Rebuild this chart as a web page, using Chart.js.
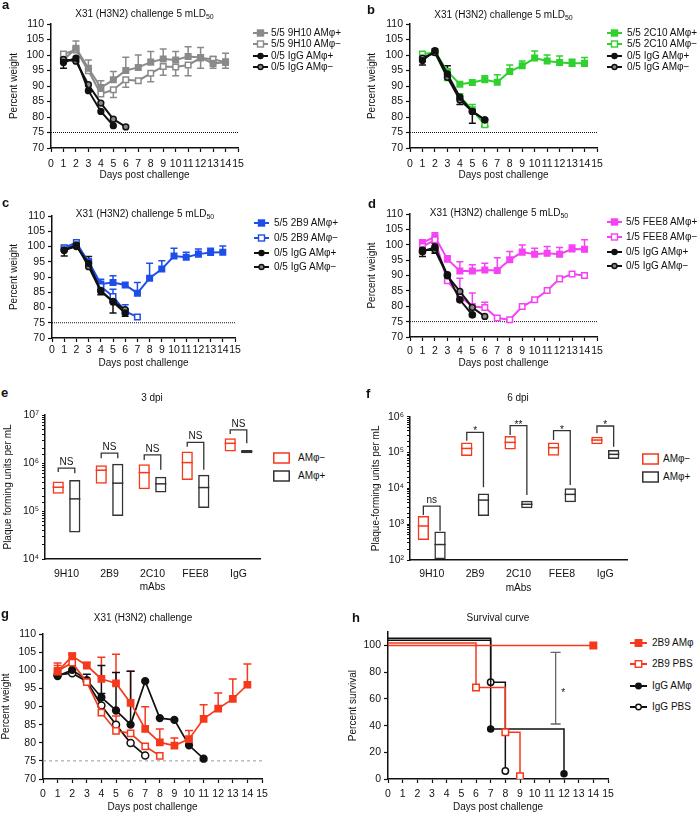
<!DOCTYPE html>
<html><head><meta charset="utf-8">
<script src="https://cdn.jsdelivr.net/npm/chart.js@4.4.1/dist/chart.umd.min.js"></script>
<style>
body{margin:0;width:700px;height:813px;position:relative;background:#fff;font-family:"Liberation Sans",Arial,sans-serif;color:#111;overflow:hidden}
canvas{position:absolute}
.lbl{position:absolute;font-weight:bold;font-size:13px;line-height:13px}
.ttl{position:absolute;font-size:10px;white-space:nowrap;transform:translate(-50%,-50%);line-height:12px}
.ttl sub{font-size:7px;vertical-align:-2px;line-height:0}
.row{position:absolute;height:12px;line-height:12px;font-size:10px;white-space:nowrap;display:flex;align-items:center}
.row svg{flex:none}
</style></head><body>
<canvas id="ca" width="250" height="190" style="left:0;top:0"></canvas>
<canvas id="cb" width="260" height="190" style="left:350px;top:0"></canvas>
<canvas id="cc" width="248" height="178" style="left:0;top:200px"></canvas>
<canvas id="cd" width="260" height="177" style="left:350px;top:200px"></canvas>
<canvas id="ce" width="272" height="199" style="left:0;top:400px"></canvas>
<canvas id="cf" width="290" height="200" style="left:350px;top:400px"></canvas>
<canvas id="cg" width="275" height="203" style="left:0;top:610px"></canvas>
<canvas id="ch" width="275" height="203" style="left:347px;top:610px"></canvas>
<div class="lbl" style="left:2px;top:-2px">a</div>
<div class="lbl" style="left:367px;top:3px">b</div>
<div class="lbl" style="left:2px;top:196px">c</div>
<div class="lbl" style="left:368px;top:197px">d</div>
<div class="lbl" style="left:1px;top:386px">e</div>
<div class="lbl" style="left:366px;top:387px">f</div>
<div class="lbl" style="left:1px;top:607px">g</div>
<div class="lbl" style="left:352px;top:611px">h</div>
<div class="ttl" style="left:144.5px;top:14px">X31 (H3N2) challenge 5 mLD<sub>50</sub></div>
<div class="ttl" style="left:503.5px;top:15px">X31 (H3N2) challenge 5 mLD<sub>50</sub></div>
<div class="ttl" style="left:145px;top:214px">X31 (H3N2) challenge 5 mLD<sub>50</sub></div>
<div class="ttl" style="left:499px;top:213px">X31 (H3N2) challenge 5 mLD<sub>50</sub></div>
<div class="ttl" style="left:152px;top:398px">3 dpi</div>
<div class="ttl" style="left:518px;top:398px">6 dpi</div>
<div class="ttl" style="left:143px;top:618px">X31 (H3N2) challenge</div>
<div class="ttl" style="left:498px;top:618px">Survival curve</div>
<div id="legends"></div>
<script>
// ---------------- DATA ----------------
const days = [1,2,3,4,5,6,7,8,9,10,11,12,13,14];
const dayTicksMax = 15;
const threshold = 75;

// panel a
const a_9H10_pos = [98.4,102.2,95.7,89.5,92.0,95.0,96.0,97.7,98.7,98.4,99.5,99.2,97.3,97.7];
const a_9H10_pos_up = [null,104.5,98.4,91.7,94.7,99.3,100.0,101.1,101.9,101.1,102.7,102.4,99.5,100.6];
const a_9H10_neg = [100.3,101.6,94.9,87.4,88.8,92.0,91.7,94.1,96.3,96.1,96.8,99.0,98.6,97.7];
const a_9H10_neg_dn = [null,null,null,null,86.3,89.6,null,91.4,93.5,93.3,93.3,95.7,95.7,95.7];
const a_IgG_pos = [97.6,99.0,88.5,81.8,77.2];
const a_IgG_pos_dn = [95.7,null,null,null,null];
const a_IgG_neg = [98.6,98.0,90.4,84.5,79.3,76.8];

// panel b
const b_2C10_pos = [99.0,101.1,94.7,90.6,91.1,92.0,91.2,94.7,96.5,99.0,98.1,97.6,97.3,97.3];
const b_2C10_pos_up = [null,101.9,null,null,null,93.3,93.6,96.8,98.1,101.3,100.0,99.7,98.6,99.2];
const b_2C10_neg = [100.3,100.8,92.7,86.6,82.3,77.5];
const b_2C10_neg_up = [null,null,null,null,84.0,null];
const b_2C10_neg_dn = [null,null,null,null,null,76.8];
const b_IgG_pos = [98.2,101.4,93.9,86.4,81.8,79.1];
const b_IgG_pos_up = [null,null,96.5,null,null,null];
const b_IgG_pos_dn = [96.8,null,null,84.0,78.0,77.0];
const b_IgG_neg = [99.0,100.8,92.8,85.5,81.8,79.1];

// panel c
const c_2B9_pos = [99.4,100.5,95.1,87.7,88.2,87.4,84.7,89.6,92.6,96.9,96.5,97.5,98.0,98.1];
const c_2B9_pos_up = [null,null,null,89.3,90.4,null,88.2,94.5,95.3,99.4,98.1,99.2,99.4,100.2];
const c_2B9_neg = [99.6,101.3,94.7,86.9,83.6,78.7,76.9];
const c_2B9_neg_up = [null,null,null,null,86.0,80.9,null];
const c_IgG_pos = [98.9,100.0,94.5,85.6,81.8,78.2];
const c_IgG_pos_up = [null,null,96.7,null,null,null];
const c_IgG_pos_dn = [96.9,null,null,84.2,78.2,77.1];
const c_IgG_neg = [98.7,100.5,93.4,85.3,82.0,79.3];

// panel d
const d_FEE8_pos = [100.7,102.6,95.3,91.5,91.5,91.8,91.6,95.1,97.6,96.9,97.2,96.9,98.6,98.5];
const d_FEE8_pos_up = [null,103.9,96.4,94.5,93.5,94.0,95.8,97.8,99.9,98.9,99.4,99.1,99.9,101.6];
const d_FEE8_neg = [99.4,101.6,88.3,83.2,79.9,79.6,76.2,75.6,79.9,82.1,85.1,88.9,90.5,90.0];
const d_FEE8_neg_up = [null,null,null,89.1,84.3,81.3,null,null,null,null,null,null,null,null];
const d_IgG_pos = [97.8,99.2,90.2,82.1,77.2];
const d_IgG_pos_up = [null,100.5,null,null,null];
const d_IgG_pos_dn = [96.2,97.2,88.0,83.2,null];
const d_IgG_neg = [98.3,98.3,89.9,84.8,79.6,76.7];

// panels e, f (plaque forming units per mL)
const mAbs = ['9H10','2B9','2C10','FEE8','IgG'];
const e_neg_min = [2.28e5,3.68e5,2.85e5,4.45e5,1.73e6];
const e_neg_max = [4.1e5,9.0e5,9.4e5,1.73e6,3.27e6];
const e_neg_med = [3.13e5,7.07e5,6.3e5,1.02e6,2.57e6];
const e_pos_min = [3.58e4,7.9e4,2.43e5,1.15e5,1.6e6];
const e_pos_max = [4.45e5,9.6e5,5.2e5,5.66e5,1.87e6];
const e_pos_med = [1.79e5,3.8e5,3.68e5,3.08e5,1.73e6];
const e_sig_label = ['NS','NS','NS','NS','NS'];
const e_sig_top = [7.8e5,1.6e6,1.47e6,2.7e6,4.88e6];
const e_sig_left = [6.5e5,1.26e6,1.16e6,2.19e6,4.03e6];
const e_sig_right = [6.1e5,1.26e6,7.2e5,7.2e5,2.57e6];

const f_neg_min = [3.6e2,8.0e4,1.22e5,8.1e4,1.69e5];
const f_neg_max = [1.69e3,1.92e5,2.9e5,1.92e5,2.77e5];
const f_neg_med = [8.9e2,1.3e5,1.92e5,1.36e5,2.23e5];
const f_pos_min = [1.05e2,1.69e3,2.77e3,4.1e3,6.6e4];
const f_pos_max = [6.2e2,7.2e3,4.5e3,1.0e4,1.17e5];
const f_pos_med = [2.7e2,4.7e3,3.6e3,6.8e3,8.9e4];
const f_sig_label = ['ns','*','**','*','*'];
const f_sig_top = [3.2e3,3.66e5,5.6e5,4.06e5,5.5e5];
const f_sig_left = [1.8e3,2.14e5,3.08e5,2.23e5,3.43e5];
const f_sig_right = [6.6e2,1.07e4,6.5e3,1.24e4,1.46e5];

// panel g
const g_2B9_AM = [99.6,103.9,101.3,97.6,96.4,91.0,83.8,80.1,79.2,81.0,86.6,89.4,92.1,96.0];
const g_2B9_AM_up = [102.0,104.7,102.2,103.6,104.4,99.7,89.9,83.8,81.3,83.4,90.5,93.7,97.6,101.7];
const g_2B9_PBS = [99.8,102.1,96.7,88.3,83.3,82.6,79.0,76.4];
const g_2B9_PBS_up = [101.3,104.3,null,null,87.4,null,null,null];
const g_IgG_AM = [98.4,100.1,97.3,92.5,88.9,85.0,97.0,86.8,86.3,79.3,75.6];
const g_IgG_AM_up = [null,null,98.9,101.3,99.4,99.7,null,null,null,null,null];
const g_IgG_PBS = [98.7,99.2,96.9,90.3,85.0,79.9,76.5];
const g_IgG_PBS_up = [null,null,null,93.6,null,null,null];

// panel h (survival, %)
const h_2B9_AM_days = [0,14];
const h_2B9_AM = [100,100];
const h_2B9_PBS_days = [0,6,8,9];
const h_2B9_PBS = [102,68.5,35,2];
const h_IgG_AM_days = [0,7,12];
const h_IgG_AM = [104,37.5,4];
const h_IgG_PBS_days = [0,7,8];
const h_IgG_PBS = [105.5,72.5,6];
const h_sig_bar = [11.43,41.2,94.9];   // day, low, high
const h_sig_star = [11.95,65.4];

// ---------------- STYLE ----------------
const GRAY='#8a8a8a', GREEN='#2fd12f', BLUE='#1e4ee8', MAG='#f442f4', RED='#f5391c', BLK='#111';
Chart.defaults.font.family = '"Liberation Sans", Arial, sans-serif';
Chart.defaults.font.size = 10;
Chart.defaults.color = '#111';
Chart.defaults.animation = false;
const TICKFONT = {size:10.5};

const errPlugin = {
  id:'errbars',
  beforeDatasetsDraw(chart){
    const ctx=chart.ctx, xs=chart.scales.x, ys=chart.scales.y;
    chart.data.datasets.forEach(ds=>{
      if(!ds.errUp && !ds.errDown) return;
      ctx.save(); ctx.strokeStyle=ds.borderColor; ctx.lineWidth=1.5;
      const cap = ds.capHalf||3.5;
      ds.data.forEach((p,i)=>{
        const x=xs.getPixelForValue(p.x), y=ys.getPixelForValue(p.y);
        [ds.errUp,ds.errDown].forEach(arr=>{
          if(!arr||arr[i]==null) return;
          const ye=ys.getPixelForValue(arr[i]);
          ctx.beginPath(); ctx.moveTo(x,y); ctx.lineTo(x,ye);
          ctx.moveTo(x-cap,ye); ctx.lineTo(x+cap,ye); ctx.stroke();
        });
      });
      ctx.restore();
    });
  }
};

function ser(vals,color,style,fill,r,up,dn,xs,cap,lw){
  const xv = xs||days;
  return {data: vals.map((v,i)=>({x:xv[i],y:v})), borderColor:color, backgroundColor:fill,
    pointStyle:style, pointRadius:r, pointHoverRadius:r, pointBorderWidth:1.5,
    pointBackgroundColor:fill, pointBorderColor:color, borderWidth:lw||2, tension:0,
    errUp:up, errDown:dn, capHalf:cap||3.5};
}
function thr(color,dash){
  return {data:[{x:0,y:threshold},{x:dayTicksMax,y:threshold}], borderColor:color, borderWidth:1,
    borderDash:dash, pointRadius:0};
}
function axisCommon(){
  return {grid:{display:true,drawOnChartArea:false,drawTicks:true,tickLength:4,color:BLK,tickColor:BLK,tickWidth:1.2},
          border:{color:BLK,width:1.5}};
}
function weightChart(id,datasets,c){
  const xa=axisCommon(), ya=axisCommon();
  return new Chart(document.getElementById(id),{
    type:'line',
    data:{datasets},
    plugins:[errPlugin].concat(c.plugins||[]),
    options:{responsive:false,
      layout:{padding:{left:0,top:c.padT,right:c.padR,bottom:0}},
      plugins:{legend:{display:false},tooltip:{enabled:false}},
      scales:{
        x:Object.assign(xa,{type:'linear',min:0,max:dayTicksMax,afterFit:s=>{s.height=c.xH;},
          ticks:{stepSize:1,padding:c.xTP,autoSkip:false,maxRotation:0,color:BLK,font:TICKFONT},
          title:{display:true,text:'Days post challenge',color:BLK,padding:{top:0,bottom:c.xPB}}}),
        y:Object.assign(ya,{type:'linear',min:c.yMin,max:c.yMax,afterFit:s=>{s.width=c.yW;},
          ticks:{stepSize:c.yStep,padding:3,autoSkip:false,color:BLK,includeBounds:false,font:TICKFONT},
          title:{display:true,text:c.yTitle,color:BLK,padding:{top:c.yTP,bottom:0}}})
      }}
  });
}

// panel a
weightChart('ca',[
  ser(a_IgG_pos,BLK,'circle',BLK,2.9,null,a_IgG_pos_dn),
  ser(a_IgG_neg,BLK,'circle','#888',2.9),
  ser(a_9H10_pos,GRAY,'rect',GRAY,3.9,a_9H10_pos_up,null),
  ser(a_9H10_neg,GRAY,'rect','#fff',3.9,null,a_9H10_neg_dn),
  thr(BLK,[1,1])
],{padT:24,padR:12,yW:51,xH:42,xTP:6,xPB:9,yTP:8,yMin:70,yMax:110,yStep:5,yTitle:'Percent weight'});
// panel b
weightChart('cb',[
  ser(b_IgG_pos,BLK,'circle',BLK,2.9,b_IgG_pos_up,b_IgG_pos_dn),
  ser(b_IgG_neg,BLK,'circle','#888',2.9),
  ser(b_2C10_neg,GREEN,'rect','#fff',3.9,b_2C10_neg_up,b_2C10_neg_dn),
  ser(b_2C10_pos,GREEN,'rect',GREEN,3.9,b_2C10_pos_up,null),
  thr(BLK,[1,1])
],{padT:24,padR:13,yW:60,xH:42,xTP:6,xPB:9,yTP:16,yMin:70,yMax:110,yStep:5,yTitle:'Percent weight'});
// panel c
weightChart('cc',[
  ser(c_IgG_pos,BLK,'circle',BLK,2.9,c_IgG_pos_up,c_IgG_pos_dn),
  ser(c_IgG_neg,BLK,'circle','#888',2.9),
  ser(c_2B9_neg,BLUE,'rect','#fff',3.9,c_2B9_neg_up,null),
  ser(c_2B9_pos,BLUE,'rect',BLUE,3.9,c_2B9_pos_up,null),
  thr(BLK,[1,1])
],{padT:16,padR:13,yW:52,xH:40,xTP:1.5,xPB:9,yTP:8,yMin:70,yMax:110,yStep:5,yTitle:'Percent weight'});
// panel d
weightChart('cd',[
  ser(d_IgG_pos,BLK,'circle',BLK,3.1,d_IgG_pos_up,d_IgG_pos_dn),
  ser(d_IgG_neg,BLK,'circle','#888',2.9),
  ser(d_FEE8_neg,MAG,'rect','#fff',3.9,d_FEE8_neg_up,null),
  ser(d_FEE8_pos,MAG,'rect',MAG,3.9,d_FEE8_pos_up,null),
  thr(BLK,[1,1])
],{padT:14,padR:13,yW:60,xH:40,xTP:4,xPB:8,yTP:16,yMin:70,yMax:110,yStep:5,yTitle:'Percent weight'});
// panel g
weightChart('cg',[
  ser(g_2B9_AM,RED,'rect',RED,4.4,g_2B9_AM_up,null,null,4,1.7),
  ser(g_2B9_PBS,RED,'rect','#fff',4.4,g_2B9_PBS_up,null,null,4,1.7),
  ser(g_IgG_AM,BLK,'circle',BLK,3.4,g_IgG_AM_up,null,null,4,1.7),
  ser(g_IgG_PBS,BLK,'circle','#fff',3.5,g_IgG_PBS_up,null,null,4,1.7),
  thr('#999',[3,3])
],{padT:24,padR:13,yW:43,xH:34,xTP:5,xPB:0,yTP:0,yMin:70,yMax:110,yStep:5,yTitle:'Percent weight'});

// panel h
const sigPlugin = {
  id:'sig',
  afterDatasetsDraw(chart){
    const ctx=chart.ctx, xs=chart.scales.x, ys=chart.scales.y;
    const x=xs.getPixelForValue(h_sig_bar[0]), y1=ys.getPixelForValue(h_sig_bar[1]), y2=ys.getPixelForValue(h_sig_bar[2]);
    ctx.save(); ctx.strokeStyle='#666'; ctx.lineWidth=1.3;
    ctx.beginPath(); ctx.moveTo(x,y1); ctx.lineTo(x,y2);
    ctx.moveTo(x-5,y1); ctx.lineTo(x+5,y1); ctx.moveTo(x-5,y2); ctx.lineTo(x+5,y2); ctx.stroke();
    ctx.fillStyle='#111'; ctx.font='10px "Liberation Sans", Arial'; ctx.textAlign='center'; ctx.textBaseline='middle';
    ctx.fillText('*', xs.getPixelForValue(h_sig_star[0]), ys.getPixelForValue(h_sig_star[1])+2);
    ctx.restore();
  }
};
function surv(xv,vals,color,style,fill,r){
  const d=ser(vals,color,style,fill,r,null,null,xv,4,1.5);
  d.stepped='before';
  d.pointRadius=vals.map((v,i)=>i===0?0:r);
  return d;
}
weightChart('ch',[
  surv(h_2B9_AM_days,h_2B9_AM,RED,'rect',RED,4.6),
  surv(h_2B9_PBS_days,h_2B9_PBS,RED,'rect','#fff',4.6),
  surv(h_IgG_AM_days,h_IgG_AM,BLK,'circle',BLK,3),
  surv(h_IgG_PBS_days,h_IgG_PBS,BLK,'circle','#fff',3.2)
],{padT:22.2,padR:14,yW:41,xH:34,xTP:5,xPB:0,yTP:0,yMin:0,yMax:110,yStep:20,yTitle:'Percent survival',plugins:[sigPlugin]});

// panels e, f
const SUP='⁰¹²³⁴⁵⁶⁷⁸⁹';
function logLabel(v){
  const l=Math.log10(v), r=Math.round(l);
  return Math.abs(l-r)<1e-6 ? '10'+String(r).split('').map(ch=>SUP[+ch]).join('') : '';
}
function boxPlugin(meds, labels, tops, lefts, rights){
  return {id:'boxextras',
    afterDatasetsDraw(chart){
      const ctx=chart.ctx, ys=chart.scales.y;
      ctx.save();
      meds.forEach((arr,di)=>{
        const meta=chart.getDatasetMeta(di);
        ctx.strokeStyle=chart.data.datasets[di].borderColor; ctx.lineWidth=1.5;
        arr.forEach((m,i)=>{
          const el=meta.data[i], y=ys.getPixelForValue(m);
          ctx.beginPath(); ctx.moveTo(el.x-el.width/2,y); ctx.lineTo(el.x+el.width/2,y); ctx.stroke();
        });
      });
      const m0=chart.getDatasetMeta(0), m1=chart.getDatasetMeta(1);
      ctx.strokeStyle='#333'; ctx.lineWidth=1.3; ctx.fillStyle='#111';
      ctx.font='10px "Liberation Sans", Arial'; ctx.textAlign='center'; ctx.textBaseline='alphabetic';
      labels.forEach((lab,i)=>{
        const lx=m0.data[i].x, rx=m1.data[i].x, yt=ys.getPixelForValue(tops[i]);
        ctx.beginPath(); ctx.moveTo(lx,ys.getPixelForValue(lefts[i])); ctx.lineTo(lx,yt); ctx.lineTo(rx,yt);
        ctx.lineTo(rx,ys.getPixelForValue(rights[i])); ctx.stroke();
        const isStar = lab.indexOf('*')>=0;
        ctx.fillText(lab,(lx+rx)/2, isStar? yt+2 : yt-3);
      });
      ctx.restore();
    }};
}
function pfuChart(id,negMin,negMax,negMed,posMin,posMax,posMed,labs,tops,lefts,rights,c){
  const ya=axisCommon();
  ya.grid.tickLength=3; ya.grid.tickWidth=1;
  return new Chart(document.getElementById(id),{
    type:'bar',
    data:{labels:mAbs,datasets:[
      {data:negMin.map((v,i)=>[v,negMax[i]]),borderColor:RED,backgroundColor:'rgba(255,255,255,0)',borderWidth:1.5,borderSkipped:false,categoryPercentage:0.77,barPercentage:0.68},
      {data:posMin.map((v,i)=>[v,posMax[i]]),borderColor:'#333',backgroundColor:'rgba(255,255,255,0)',borderWidth:1.5,borderSkipped:false,categoryPercentage:0.77,barPercentage:0.68}
    ]},
    plugins:[boxPlugin([negMed,posMed],labs,tops,lefts,rights)],
    options:{responsive:false,
      layout:{padding:{left:0,top:c.padT,right:c.padR,bottom:0}},
      plugins:{legend:{display:false},tooltip:{enabled:false}},
      scales:{
        x:{type:'category',afterFit:s=>{s.height=40;},grid:{display:false,drawTicks:false},border:{color:BLK,width:1.5},
           ticks:{padding:c.xTP,color:BLK,maxRotation:0,font:TICKFONT},
           title:{display:true,text:'mAbs',color:BLK,padding:{top:0,bottom:6}}},
        y:Object.assign(ya,{type:'logarithmic',min:c.yMin,max:c.yMax,afterFit:s=>{s.width=c.yW;},
           ticks:{autoSkip:false,padding:3,color:BLK,font:TICKFONT,callback:v=>logLabel(v)},
           title:{display:true,text:c.yTitle,color:BLK,padding:{top:c.yTP,bottom:0}}})
      }}
  });
}
pfuChart('ce',e_neg_min,e_neg_max,e_neg_med,e_pos_min,e_pos_max,e_pos_med,e_sig_label,e_sig_top,e_sig_left,e_sig_right,
  {padT:15,padR:12,yW:45,xTP:9,yTP:2,yMin:1e4,yMax:1e7,yTitle:'Plaque forming units per mL'});
pfuChart('cf',f_neg_min,f_neg_max,f_neg_med,f_pos_min,f_pos_max,f_pos_med,f_sig_label,f_sig_top,f_sig_left,f_sig_right,
  {padT:16.7,padR:13,yW:60,xTP:8,yTP:20,yMin:1e2,yMax:1e6,yTitle:'Plaque-forming units per mL'});

// ---------------- LEGENDS (HTML) ----------------
function marker(color,style,fill,sz,w){
  const c=w/2, line=`<line x1="0" y1="6" x2="${w}" y2="6" stroke="${color}" stroke-width="2"/>`;
  const m = style==='rect'
    ? `<rect x="${c-sz/2}" y="${6-sz/2}" width="${sz}" height="${sz}" fill="${fill}" stroke="${color}" stroke-width="1.4"/>`
    : `<circle cx="${c}" cy="6" r="${sz/2}" fill="${fill}" stroke="${color}" stroke-width="1.4"/>`;
  return `<svg width="${w}" height="12">${line}${m}</svg>`;
}
function boxMarker(color){
  return `<svg width="17" height="12"><rect x="0.75" y="1" width="15.5" height="10" fill="none" stroke="${color}" stroke-width="1.5"/></svg>`;
}
const L=document.getElementById('legends');
function row(x,y,svg,gap,text){
  const d=document.createElement('div'); d.className='row';
  d.style.left=x+'px'; d.style.top=(y-6)+'px';
  d.innerHTML=svg+`<span style="margin-left:${gap}px">${text}</span>`;
  L.appendChild(d);
}
function weightLegend(x,ys,gap,col,names){
  row(x,ys[0],marker(col,'rect',col,6,15),gap,names[0]);
  row(x,ys[1],marker(col,'rect','#fff',6,15),gap,names[1]);
  row(x,ys[2],marker(BLK,'circle',BLK,5,15),gap,names[2]);
  row(x,ys[3],marker(BLK,'circle','#888',5,15),gap,names[3]);
}
weightLegend(253,[33.3,44.3,55.7,66.7],3,GRAY,['5/5 9H10 AMφ+','5/5 9H10 AMφ−','0/5 IgG AMφ+','0/5 IgG AMφ−']);
weightLegend(607,[33,44,56,67],5,GREEN,['5/5 2C10 AMφ+','5/5 2C10 AMφ−','0/5 IgG AMφ+','0/5 IgG AMφ−']);
weightLegend(254,[223,238,253,267],5,BLUE,['5/5 2B9 AMφ+','0/5 2B9 AMφ−','0/5 IgG AMφ+','0/5 IgG AMφ−']);
weightLegend(607,[222,237,252,266],4,MAG,['5/5 FEE8 AMφ+','1/5 FEE8 AMφ−','0/5 IgG AMφ+','0/5 IgG AMφ−']);
row(273,458,boxMarker(RED),8,'AMφ−');
row(273,476,boxMarker('#333'),8,'AMφ+');
row(642,459,boxMarker(RED),4,'AMφ−');
row(642,477,boxMarker('#333'),4,'AMφ+');
row(630,643,marker(RED,'rect',RED,6.5,17),5,'2B9 AMφ');
row(630,664,marker(RED,'rect','#fff',6.5,17),5,'2B9 PBS');
row(630,686,marker(BLK,'circle',BLK,5.5,17),5,'IgG AMφ');
row(630,707,marker(BLK,'circle','#fff',5.5,17),5,'IgG PBS');
</script>
</body></html>
